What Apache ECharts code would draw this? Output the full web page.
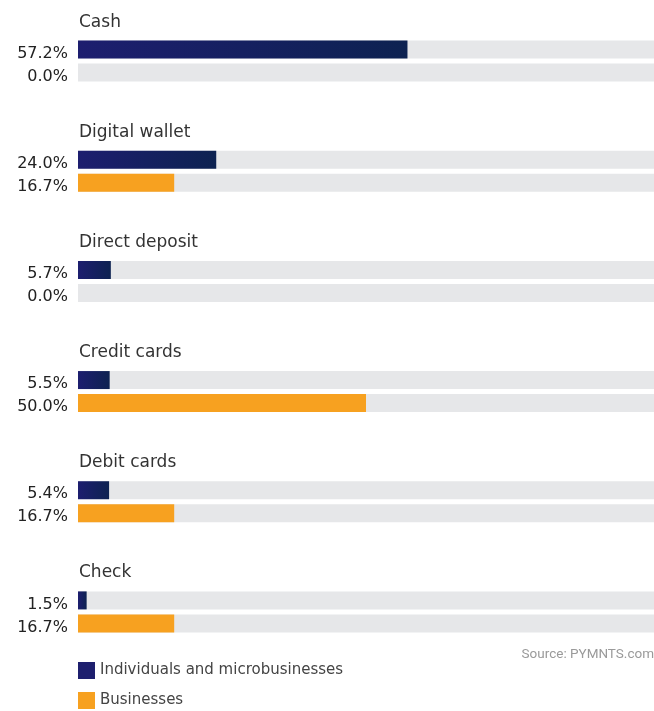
<!DOCTYPE html>
<html>
<head>
<meta charset="utf-8">
<script src="https://cdn.jsdelivr.net/npm/echarts@6/dist/echarts.min.js"></script>
<style>
  html, body { margin: 0; padding: 0; background: #ffffff; }
  #chart { width: 654px; height: 711px; }
</style>
</head>
<body>
<div id="chart"></div>
<script>
// Payment methods used, share of respondents (%)
const categories = ['Cash', 'Digital wallet', 'Direct deposit', 'Credit cards', 'Debit cards', 'Check'];
const individuals = [57.2, 24.0, 5.7, 5.5, 5.4, 1.5];
const businesses = [0.0, 16.7, 0.0, 50.0, 16.7, 16.7];
const seriesNames = ['Individuals and microbusinesses', 'Businesses'];
const sourceText = 'Source: PYMNTS.com';

const FONT = 'DejaVu Sans';
const NAVY = '#1e1f6e';
const ORANGE = '#f7a120';
const TRACK = '#e6e7e9';

const chart = echarts.init(document.getElementById('chart'));

const navyGradient = new echarts.graphic.LinearGradient(0, 0, 1, 0, [
  { offset: 0, color: '#1d1e6f' },
  { offset: 1, color: '#0d2251' }
]);

const valueLabel = {
  show: true,
  position: 'left',
  distance: 10,
  offset: [0, 4],
  fontFamily: FONT,
  fontSize: 16,
  color: '#222222',
  formatter: p => p.value.toFixed(1) + '%'
};

function barSeries(name, data, color) {
  return {
    name: name,
    type: 'bar',
    data: data,
    barWidth: 18,
    barGap: '28%',
    itemStyle: { color: color },
    showBackground: true,
    backgroundStyle: { color: TRACK },
    label: valueLabel,
    emphasis: { disabled: true },
    silent: true
  };
}

chart.setOption({
  animation: false,
  backgroundColor: '#ffffff',
  textStyle: { fontFamily: FONT },
  grid: { left: 78, right: 0, top: 6, height: 661 },
  xAxis: {
    type: 'value',
    min: 0,
    max: 100,
    show: false
  },
  yAxis: {
    type: 'category',
    data: categories,
    inverse: true,
    axisLine: { show: false },
    axisTick: { show: false },
    splitLine: { show: false },
    axisLabel: {
      inside: true,
      margin: 1,
      align: 'left',
      verticalAlign: 'middle',
      lineHeight: 19.5,
      // category title sits above its pair of bars
      formatter: v => v + '\n \n \n \n ',
      fontFamily: FONT,
      fontSize: 17,
      color: '#333333'
    },
    z: 5
  },
  legend: {
    orient: 'vertical',
    left: 78,
    top: 662,
    padding: 0,
    height: 60,
    itemWidth: 17,
    itemHeight: 17,
    itemGap: 13,
    selectedMode: false,
    icon: 'rect',
    textStyle: { fontFamily: FONT, fontSize: 15, color: '#444444' },
    data: [
      { name: seriesNames[0], itemStyle: { color: NAVY } },
      { name: seriesNames[1], itemStyle: { color: ORANGE } }
    ]
  },
  title: {
    text: sourceText,
    right: 0,
    top: 648,
    padding: 0,
    textStyle: { fontFamily: 'Roboto', fontSize: 13.5, fontWeight: 'normal', color: '#9a9a9a' }
  },
  series: [
    barSeries(seriesNames[0], individuals, navyGradient),
    barSeries(seriesNames[1], businesses, ORANGE)
  ]
});
</script>
</body>
</html>
